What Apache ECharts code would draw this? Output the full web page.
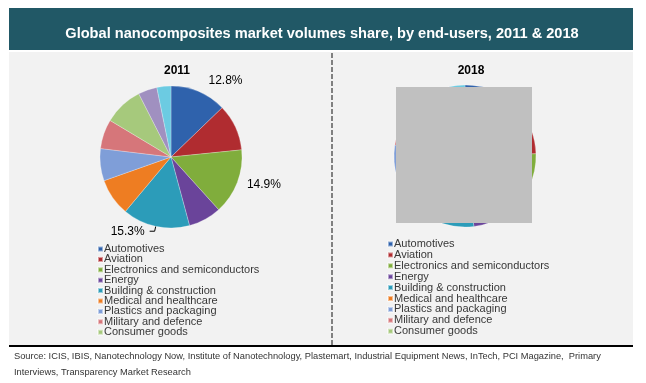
<!DOCTYPE html>
<html><head><meta charset="utf-8">
<script src="https://cdn.jsdelivr.net/npm/echarts@6/dist/echarts.min.js"></script>
<style>html,body{margin:0;padding:0;background:#fff}#c{width:646px;height:383px}</style>
</head><body><div id="c"></div>
<script>
var categories = ['Automotives','Aviation','Electronics and semiconductors','Energy','Building & construction','Medical and healthcare','Plastics and packaging','Military and defence','Consumer goods','Other A','Other B'];
var legendNames = categories.slice(0, 9);
var values2011 = [12.8, 10.6, 14.9, 7.5, 15.3, 8.5, 7.3, 6.7, 8.9, 4.3, 3.2];
var values2018 = [13.5, 11.0, 15.5, 8.0, 14.0, 8.0, 7.5, 6.5, 8.5, 4.0, 3.5];
var labelled2011 = ['Automotives','Electronics and semiconductors','Building & construction'];
var colors = ['#2f62ac','#b02c30','#80ad3c','#6a449a','#2c9cb9','#ee7d22','#7f9ed8','#d6767a','#a6c97c','#a090c0','#6ccbe2'];
var titleText = 'Global nanocomposites market volumes share, by end-users, 2011 & 2018';
var sourceLine1 = 'Source: ICIS, IBIS, Nanotechnology Now, Institute of Nanotechnology, Plastemart, Industrial Equipment News, InTech, PCI Magazine,  Primary';
var sourceLine2 = 'Interviews, Transparency Market Research';

var FONT = '"Liberation Sans", Arial, sans-serif';
var chart = echarts.init(document.getElementById('c'), null, {renderer:'canvas'});

var labelLines = {
  'Automotives': {show: false, length: 12, length2: 0},
  'Electronics and semiconductors': {show: false, length: 5, length2: 0},
  'Building & construction': {show: true, length: 5, length2: 5}
};

function build(vals, labelled) {
  return categories.map(function (n, i) {
    var show = labelled.indexOf(n) >= 0;
    var d = {name: n, value: vals[i], itemStyle: {color: colors[i]}};
    d.label = {show: show};
    d.labelLine = show ? labelLines[n] : {show: false};
    return d;
  });
}

function legend(left, top, gap) {
  return {
    orient: 'vertical', left: left, top: top, itemGap: gap, padding: 0,
    icon: 'rect', itemWidth: 5, itemHeight: 5,
    selectedMode: false,
    data: legendNames,
    textStyle: {fontFamily: FONT, fontSize: 11, color: '#383838', lineHeight: 10, padding: [0,0,0,-4]}
  };
}

chart.setOption({
  animation: false,
  backgroundColor: '#ffffff',
  graphic: [
    {type: 'rect', shape: {x: 9, y: 8, width: 624, height: 42}, style: {fill: '#215866'}, z: -10},
    {type: 'rect', shape: {x: 9, y: 52, width: 624, height: 293}, style: {fill: '#f2f2f2'}, z: -10},
    {type: 'rect', shape: {x: 9, y: 345, width: 624, height: 2}, style: {fill: '#000000'}, z: -10},
    {type: 'line', shape: {x1: 332, y1: 53, x2: 332, y2: 345}, style: {stroke: '#808080', lineWidth: 2, lineDash: [5, 2]}, z: -9},
    {type: 'text', x: 14, y: 356, style: {text: sourceLine1, font: '9.3px ' + FONT, fill: '#333333', textVerticalAlign: 'middle'}},
    {type: 'text', x: 14, y: 372, style: {text: sourceLine2, font: '9.3px ' + FONT, fill: '#333333', textVerticalAlign: 'middle'}},
    {type: 'rect', shape: {x: 396, y: 87, width: 136, height: 136}, style: {fill: '#c0c0c0'}, z: 100}
  ],
  title: [
    {text: titleText, left: 317, top: 29, textAlign: 'center', textVerticalAlign: 'middle',
     textStyle: {color: '#ffffff', fontSize: 14.6, fontWeight: 'bold', fontFamily: FONT}},
    {text: '2011', left: 172, top: 60, textAlign: 'center',
     textStyle: {color: '#000000', fontSize: 12, fontWeight: 'bold', fontFamily: FONT}},
    {text: '2018', left: 466, top: 60, textAlign: 'center',
     textStyle: {color: '#000000', fontSize: 12, fontWeight: 'bold', fontFamily: FONT}}
  ],
  legend: [legend(97, 243.5, -0.6), legend(387, 238.5, -0.1)],
  series: [
    {type: 'pie', center: [171, 157], radius: 71, startAngle: 90, clockwise: true,
     avoidLabelOverlap: false,
     label: {position: 'outside', formatter: function (p) { return p.value.toFixed(1) + '%'; },
             fontSize: 12, color: '#000', fontFamily: FONT, alignTo: 'none'},
     labelLine: {length: 6, length2: 5, lineStyle: {color: '#000', width: 1}},
     itemStyle: {borderColor: 'rgba(255,255,255,0.5)', borderWidth: 0.5},
     emphasis: {disabled: true},
     data: build(values2011, labelled2011)},
    {type: 'pie', center: [465, 156], radius: 71, startAngle: 90, clockwise: true,
     label: {show: false}, labelLine: {show: false},
     itemStyle: {borderColor: 'rgba(255,255,255,0.5)', borderWidth: 0.5},
     emphasis: {disabled: true},
     data: build(values2018, [])}
  ]
});
</script></body></html>
